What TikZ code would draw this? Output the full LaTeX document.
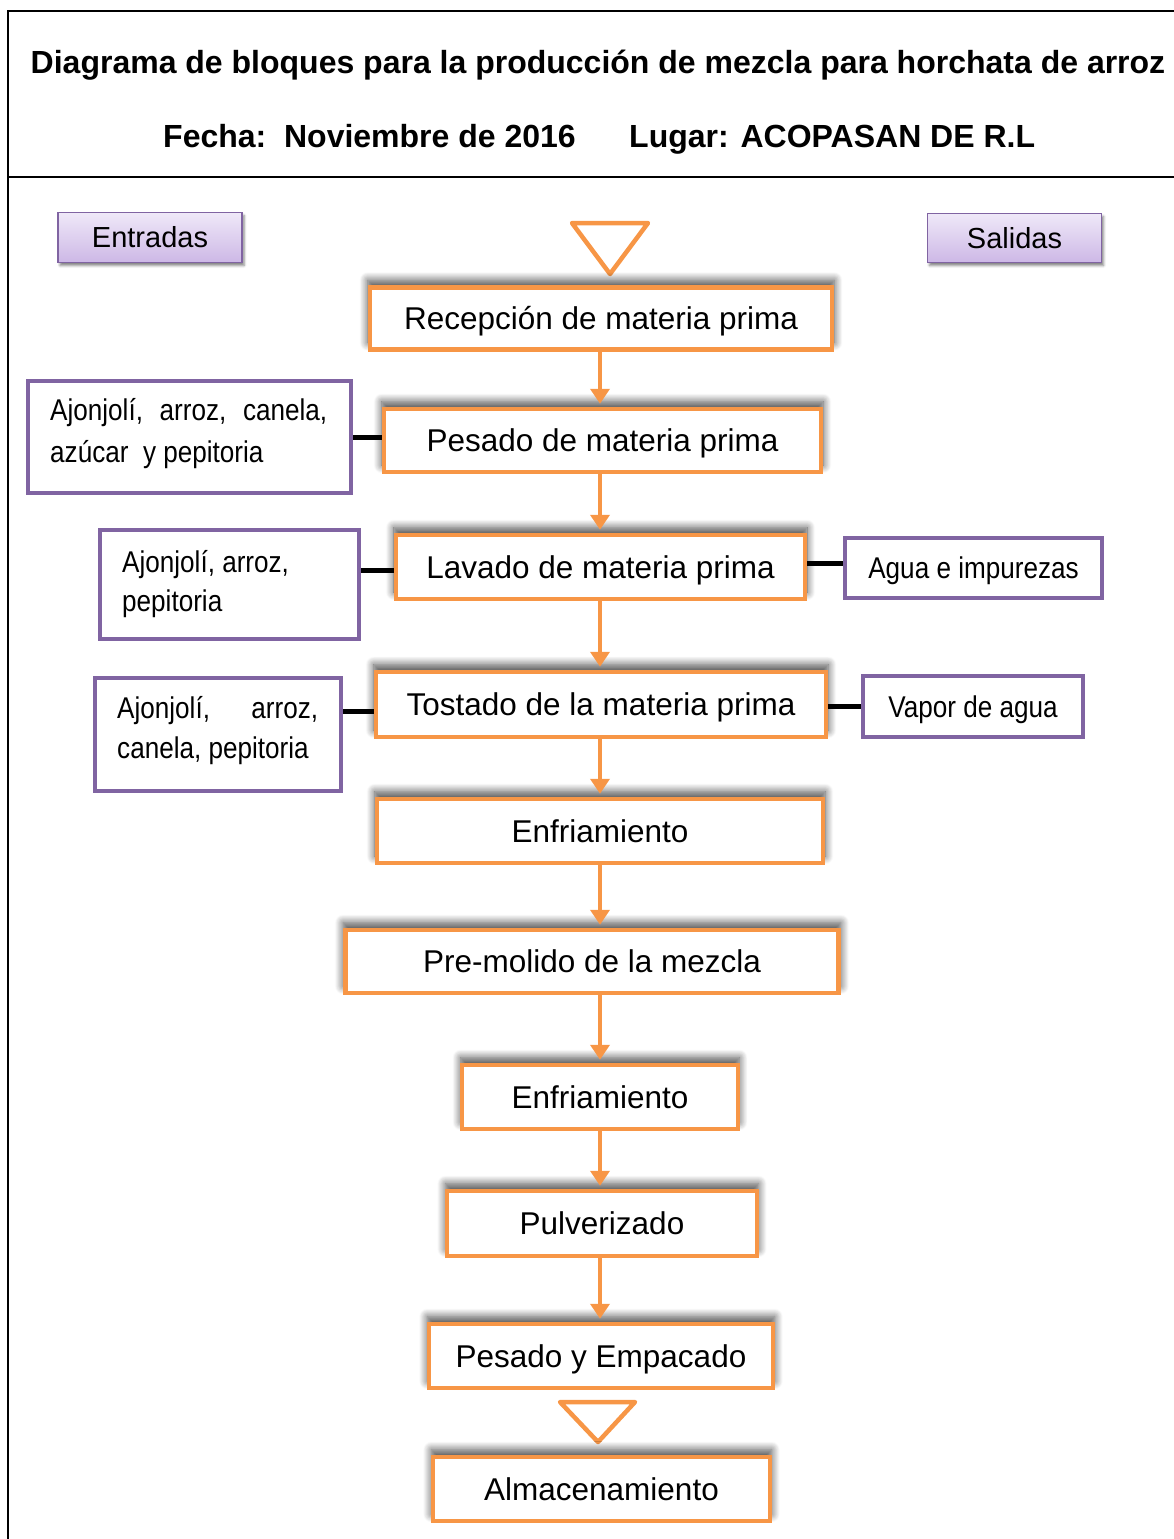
\documentclass[tikz,border=0pt]{standalone}
\usepackage{fontspec}
\setmainfont{Liberation Sans}
\newfontfamily\narrowfont[FakeStretch=0.87]{Liberation Sans}
\usetikzlibrary{arrows.meta,shadows.blur}
\definecolor{orangeb}{HTML}{F79646}
\definecolor{purpleb}{HTML}{8064A2}
\definecolor{lavtop}{HTML}{EFE8F8}
\definecolor{lavbot}{HTML}{CDB8E6}
\begin{document}
\begin{tikzpicture}[x=1pt,y=-1pt,
 procbox/.style={draw=orangeb, line width=4.5pt, fill=white, inner sep=0pt,
   font=\fontsize{31.5}{36}\selectfont, text height=22.5pt, text depth=0pt,
   blur shadow={shadow xshift=0pt, shadow yshift=7pt, shadow scale=1.01, shadow blur radius=8pt, shadow blur steps=12, shadow opacity=70}},
 inbox/.style={draw=purpleb, line width=4pt, fill=white, inner sep=0pt},
 narrowtext/.style={font=\narrowfont\fontsize{30}{36}\selectfont, inner sep=0pt},
 headbox/.style={draw=purpleb, line width=1.5pt, top color=lavtop, bottom color=lavbot,
   inner sep=0pt, font=\fontsize{29}{34}\selectfont, text height=20.8pt, text depth=0pt,
   blur shadow={shadow xshift=2pt, shadow yshift=-3pt, shadow blur radius=2.5pt, shadow opacity=50}},
 flowarrow/.style={draw=orangeb, line width=4.5pt, -{Triangle[width=19pt,length=15pt]}, shorten >=3pt},
 linkline/.style={draw=black, line width=5pt},
 frameline/.style={draw=black, line width=2.5pt},
 tri/.style={draw=orangeb, line width=4.5pt, line join=round},
 titletext/.style={font=\bfseries\fontsize{32}{36}\selectfont, inner sep=0pt, anchor=base}
]
\useasboundingbox (0,0) rectangle (1173,1539);

% frame
\draw[frameline] (1180,11) -- (8,11) -- (8,1550);
\draw[frameline] (8,177) -- (1180,177);

% header
\node[titletext] (title) at (598,73) {Diagrama de bloques para la producción de mezcla para horchata de arroz};
\node[titletext, anchor=base west] (fecha) at (163,147) {Fecha:\ \ Noviembre de 2016};
\node[titletext, anchor=base west] (lugar) at (629,147) {Lugar: ACOPASAN DE R.L};

% column headers
\node[headbox, minimum width=184pt, minimum height=50pt] (ent) at (150,237.5) {Entradas};
\node[headbox, minimum width=174pt, minimum height=49pt] (sal) at (1014.5,238) {Salidas};

% triangles
\draw[tri] (572,223) -- (648,223) -- (610,274) -- cycle;
\draw[tri] (560,1402) -- (635,1402) -- (598,1442) -- cycle;

% process boxes
\node[procbox, minimum width=462pt, minimum height=62pt] (P1) at (601,318.5) {Recepción de materia prima};
\node[procbox, minimum width=437pt, minimum height=63pt] (P2) at (602.5,440.5) {Pesado de materia prima};
\node[procbox, minimum width=409pt, minimum height=64pt] (P3) at (600.5,567) {Lavado de materia prima};
\node[procbox, minimum width=450pt, minimum height=65pt] (P4) at (601,704.5) {Tostado de la materia prima};
\node[procbox, minimum width=446pt, minimum height=64pt] (P5) at (600,831) {Enfriamiento};
\node[procbox, minimum width=493pt, minimum height=63pt] (P6) at (592,961.5) {Pre-molido de la mezcla};
\node[procbox, minimum width=276pt, minimum height=64pt] (P7) at (600,1097) {Enfriamiento};
\node[procbox, minimum width=310pt, minimum height=65pt] (P8) at (602,1223.5) {Pulverizado};
\node[procbox, minimum width=344pt, minimum height=64pt] (P9) at (601,1356) {Pesado y Empacado};
\node[procbox, minimum width=337pt, minimum height=64pt] (P10) at (601.5,1489) {Almacenamiento};

% arrows
\coordinate (col) at (600,0);
\draw[flowarrow] (P1.south -| col) -- (P2.north -| col);
\draw[flowarrow] (P2.south -| col) -- (P3.north -| col);
\draw[flowarrow] (P3.south -| col) -- (P4.north -| col);
\draw[flowarrow] (P4.south -| col) -- (P5.north -| col);
\draw[flowarrow] (P5.south -| col) -- (P6.north -| col);
\draw[flowarrow] (P6.south -| col) -- (P7.north -| col);
\draw[flowarrow] (P7.south -| col) -- (P8.north -| col);
\draw[flowarrow] (P8.south -| col) -- (P9.north -| col);

% input boxes
\node[inbox, minimum width=323pt, minimum height=112pt] (A1) at (189.5,437) {};
\node[narrowtext, anchor=base west] (A1a) at (50,420) {\hbox to 277pt{Ajonjolí,\hfill arroz,\hfill canela,}};
\node[narrowtext, anchor=base west] (A1b) at (50,462) {azúcar\ \ y pepitoria};

\node[inbox, minimum width=259pt, minimum height=109pt] (A2) at (229.5,584.5) {};
\node[narrowtext, anchor=base west] (A2a) at (122,572) {Ajonjolí, arroz,};
\node[narrowtext, anchor=base west] (A2b) at (122,611) {pepitoria};

\node[inbox, minimum width=246pt, minimum height=113pt] (A3) at (218,734.5) {};
\node[narrowtext, anchor=base west] (A3a) at (117,718) {\hbox to 201pt{Ajonjolí,\hfill arroz,}};
\node[narrowtext, anchor=base west] (A3b) at (117,758) {canela, pepitoria};

% output boxes
\node[inbox, narrowtext, draw=purpleb, line width=4pt, fill=white, minimum width=257pt, minimum height=60pt, text height=21.7pt, text depth=0pt] (O1) at (973.5,568) {Agua e impurezas};
\node[inbox, narrowtext, draw=purpleb, line width=4pt, fill=white, minimum width=220pt, minimum height=61pt, text height=21.7pt, text depth=0pt] (O2) at (973,706.5) {Vapor de agua};

% link lines
\draw[linkline] (A1.east) -- (A1.east -| P2.west);
\draw[linkline] ([yshift=-3pt]P3.west -| A2.east) -- ([yshift=-3pt]P3.west);
\draw[linkline] ([yshift=-7pt]P4.west -| A3.east) -- ([yshift=-7pt]P4.west);
\draw[linkline] ([yshift=4pt]P3.east) -- ([yshift=4pt]P3.east -| O1.west);
\draw[linkline] (O2.west -| P4.east) -- (O2.west);
\end{tikzpicture}
\end{document}
